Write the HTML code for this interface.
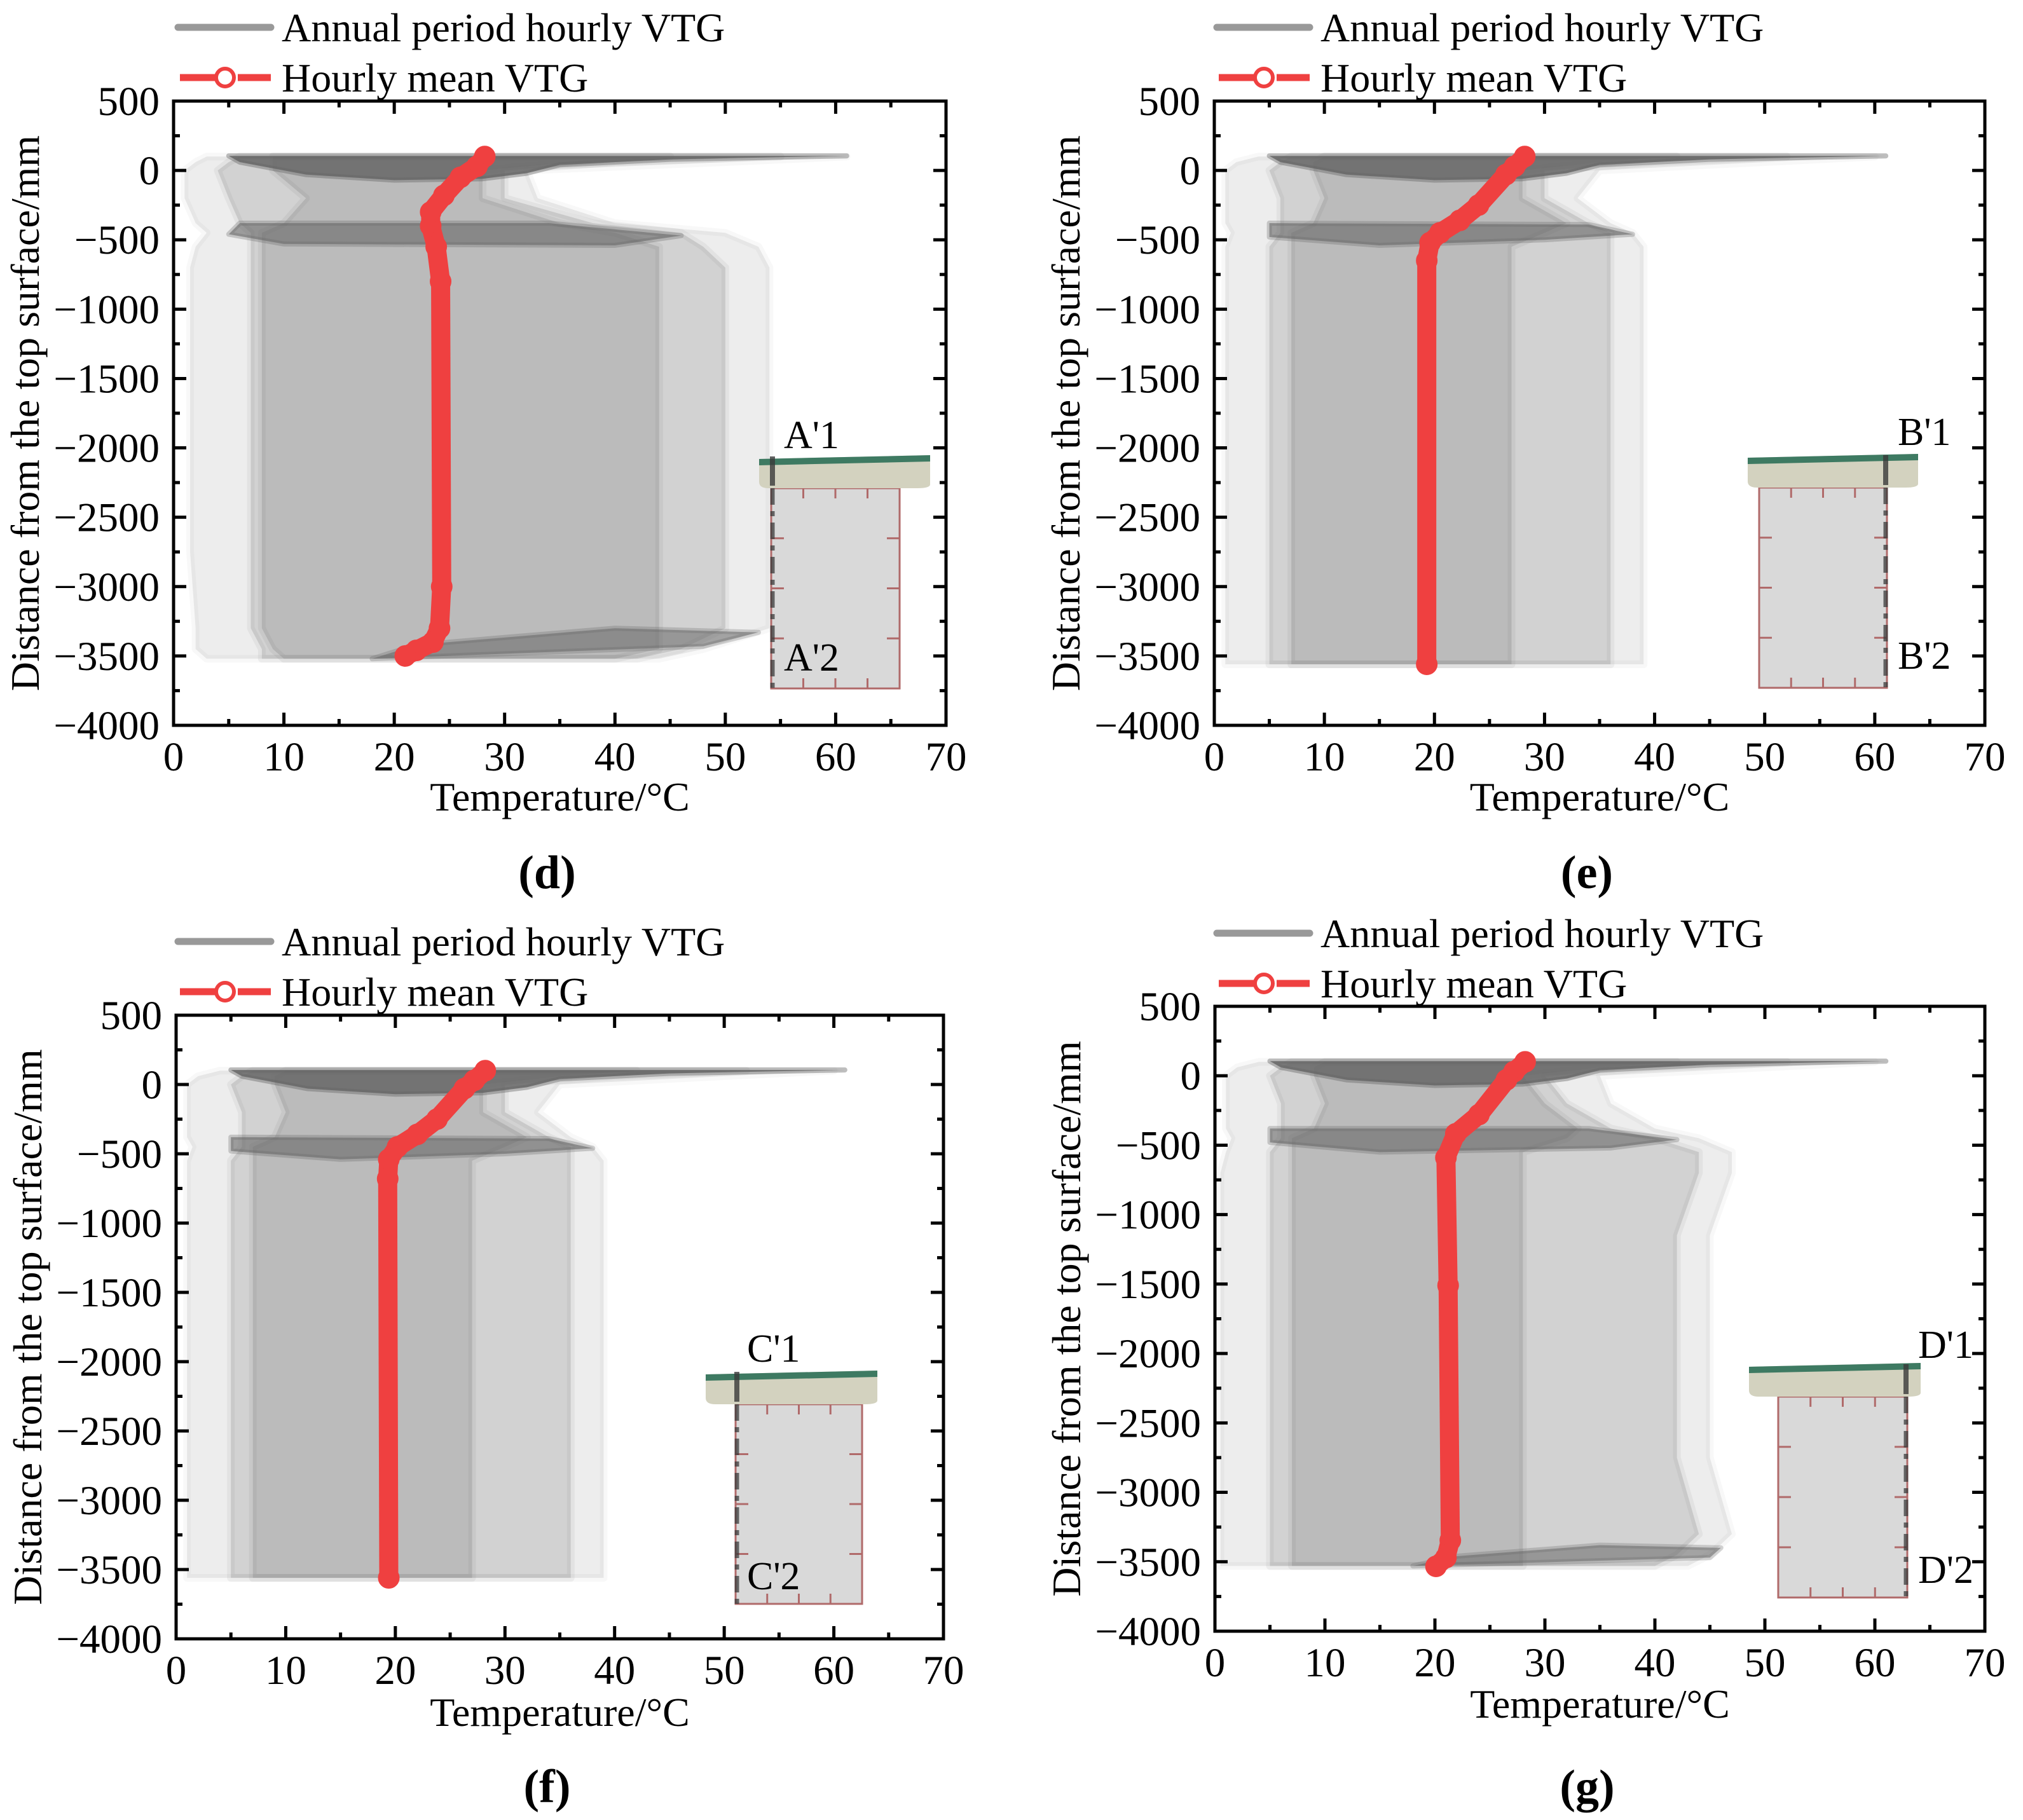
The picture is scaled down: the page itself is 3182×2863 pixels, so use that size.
<!DOCTYPE html>
<html><head><meta charset="utf-8"><style>
html,body{margin:0;padding:0;background:#fff}
svg{display:block}
text{font-family:"Liberation Serif",serif;fill:#000}
</style></head><body>
<svg id="fig" width="3182" height="2863" viewBox="0 0 3182 2863" xmlns="http://www.w3.org/2000/svg"></svg>
<script>
// ---------- data ----------
const xTicks = [0,10,20,30,40,50,60,70];
const yTicks = [500,0,-500,-1000,-1500,-2000,-2500,-3000,-3500,-4000];
const tickLabelsY = ["500","0","\u2212500","\u22121000","\u22121500","\u22122000","\u22122500","\u22123000","\u22123500","\u22124000"];

const depthD = [100,60,0,-200,-380,-450,-550,-700,-1150,-1950,-2750,-3300,-3450,-3520];
const outerMinD = [3,2,1,1,2,3,2,1.5,1.5,1.5,1.5,2,2,3];
const outerMaxD = [61,50,32,33,40,50,53,54,54,54,54,54,48,44];
const midMinD = [6,5,4,5,6,7,7,7,7,7,7,7,8,8];
const midMaxD = [55,40,30,30,38,46,48,50,50,50,50,50,46,42];
const innerMinD = [9,9,9,12,10,8,8,8,8,8,8,8,9,10];
const innerMaxD = [45,36,28,28,35,40,44,44,44,44,44,44,44,40];

const depthE = [100,60,0,-200,-380,-450,-550,-700,-1150,-1950,-2750,-3300,-3450,-3560];
const outerMinE = [4,2,1,1,1,1.5,1,1,1,1,1,1,1,1];
const outerMaxE = [60,50,35,33,36,38,39,39,39,39,39,39,39,39];
const midMinE = [7,6,5,6,6,6,5,5,5,5,5,5,5,5];
const midMaxE = [52,40,30,30,34,36,36,36,36,36,36,36,36,36];
const innerMinE = [10,9,9,10,9,7,7,7,7,7,7,7,7,7];
const innerMaxE = [42,35,28,28,32,30,27,27,27,27,27,27,27,27];

const depthF = [100,60,0,-200,-380,-450,-550,-700,-1150,-1950,-2750,-3300,-3450,-3560];
const outerMinF = [4,2,1,1,1,1.5,1,1,1,1,1,1,1,1];
const outerMaxF = [60,50,35,33,36,38,39,39,39,39,39,39,39,39];
const midMinF = [7,6,5,6,6,6,5,5,5,5,5,5,5,5];
const midMaxF = [52,40,30,30,34,36,36,36,36,36,36,36,36,36];
const innerMinF = [10,9,9,10,9,7,7,7,7,7,7,7,7,7];
const innerMaxF = [42,35,28,28,32,30,27,27,27,27,27,27,27,27];

const depthG = [100,60,0,-200,-380,-450,-550,-700,-1150,-1950,-2750,-3300,-3450,-3530];
const outerMinG = [4,2,1,1,1,1.5,1,0.5,0.5,0.5,0.5,0.5,0.5,0.5];
const outerMaxG = [60,50,35,36,40,44,47,47,45,45,45,47,45,43];
const midMinG = [7,6,5,6,6,6,5,5,5,5,5,5,5,5];
const midMaxG = [52,40,30,32,36,40,44,44,42,42,42,44,42,40];
const innerMinG = [10,9,9,10,9,7,7,7,7,7,7,7,7,7];
const innerMaxG = [42,35,28,30,33,32,28,28,28,28,28,28,28,28];

const topBand = [[5,105],[61,105],[45,80],[35,40],[32,-20],[28,-60],[20,-70],[12,-30],[6,60]];
const midBandD = [[6,-380],[34,-380],[46,-470],[40,-540],[10,-530],[5,-460]];
const midBandE = [[5,-380],[34,-390],[38,-460],[30,-500],[15,-540],[5,-480]];
const midBandF = [[5,-380],[34,-390],[38,-460],[30,-500],[15,-540],[5,-480]];
const midBandG = [[5,-380],[34,-380],[42,-460],[36,-520],[15,-550],[5,-480]];
const botBandD = [[18,-3520],[48,-3430],[53,-3330],[40,-3300],[22,-3420]];
const botBandG = [[18,-3530],[45,-3470],[46,-3400],[35,-3380],[22,-3460]];

const meanDepthD = [100,30,-50,-180,-300,-400,-550,-800,-3000,-3300,-3400,-3460,-3500];
const meanTempD  = [28.2,27.5,26,24.5,23.3,23.3,23.8,24.2,24.3,24.1,23.5,22,21];
const meanDepthE = [100,30,-30,-250,-360,-450,-520,-650,-3560];
const meanTempE  = [28.2,27.3,26.5,24,22.3,20.5,19.6,19.3,19.3];
const meanDepthF = [100,30,-30,-250,-360,-450,-540,-680,-3560];
const meanTempF  = [28.2,27.2,26.3,23.8,22,20.2,19.4,19.3,19.4];
const meanDepthG = [100,30,-30,-280,-418,-590,-1510,-3346,-3470,-3533];
const meanTempG  = [28.2,27.2,26.5,24,21.9,21,21.2,21.4,21,20.1];

const NS="http://www.w3.org/2000/svg";
const svg=document.getElementById('fig');
function mk(tag,attrs,parent){const e=document.createElementNS(NS,tag);for(const k in attrs)e.setAttribute(k,attrs[k]);(parent||svg).appendChild(e);return e;}

const panels=[
 {id:'d',L:273,R:1488,T:159,B:1141,legY:43,legX:280,label:'(d)',labY:1397,xtY:1275,
  dep:depthD,o0:outerMinD,o1:outerMaxD,m0:midMinD,m1:midMaxD,i0:innerMinD,i1:innerMaxD,mid:midBandD,bot:botBandD,
  md:meanDepthD,mt:meanTempD,
  inset:{sx0:1194,sx1:1463,sy0:718,sy1:768,wx0:1213,wx1:1415,wy1:1083,dx:1215,l1:"A'1",l1x:1233,l1y:705,l2:"A'2",l2x:1233,l2y:1055}},
 {id:'e',L:1910,R:3122,T:159,B:1141,legY:43,legX:1914,label:'(e)',labY:1397,xtY:1275,
  dep:depthE,o0:outerMinE,o1:outerMaxE,m0:midMinE,m1:midMaxE,i0:innerMinE,i1:innerMaxE,mid:midBandE,bot:null,
  md:meanDepthE,mt:meanTempE,
  inset:{sx0:2749,sx1:3017,sy0:716,sy1:767,wx0:2767,wx1:2968,wy1:1082,dx:2966,l1:"B'1",l1x:2985,l1y:700,l2:"B'2",l2x:2985,l2y:1052}},
 {id:'f',L:277,R:1484,T:1597,B:2578,legY:1481,legX:280,label:'(f)',labY:2835,xtY:2715,
  dep:depthF,o0:outerMinF,o1:outerMaxF,m0:midMinF,m1:midMaxF,i0:innerMinF,i1:innerMaxF,mid:midBandF,bot:null,
  md:meanDepthF,mt:meanTempF,
  inset:{sx0:1110,sx1:1380,sy0:2158,sy1:2209,wx0:1157,wx1:1356,wy1:2523,dx:1159,l1:"C'1",l1x:1175,l1y:2142,l2:"C'2",l2x:1175,l2y:2500}},
 {id:'g',L:1911,R:3122,T:1583,B:2566,legY:1468,legX:1914,label:'(g)',labY:2835,xtY:2702,
  dep:depthG,o0:outerMinG,o1:outerMaxG,m0:midMinG,m1:midMaxG,i0:innerMinG,i1:innerMaxG,mid:midBandG,bot:botBandG,
  md:meanDepthG,mt:meanTempG,
  inset:{sx0:2751,sx1:3021,sy0:2146,sy1:2197,wx0:2797,wx1:3000,wy1:2513,dx:2998,l1:"D'1",l1x:3017,l1y:2136,l2:"D'2",l2x:3017,l2y:2490}}
];

panels.forEach(p=>{
 const g=mk('g',{});
 
 
 const xs=v=>p.L+(v-0)/70*(p.R-p.L);
 const ys=v=>p.T+(500-v)/4500*(p.B-p.T);

 function band(lo,hi,op,name){
   let pts=[];
   for(let i=0;i<p.dep.length;i++)pts.push(xs(lo[i])+','+ys(p.dep[i]));
   for(let i=p.dep.length-1;i>=0;i--)pts.push(xs(hi[i])+','+ys(p.dep[i]));
   const e=mk('polygon',{points:pts.join(' '),fill:'#6a6a6a','fill-opacity':op,'stroke':'#6a6a6a','stroke-opacity':op*0.4,'stroke-width':12,'stroke-linejoin':'round'},g);
   
   
 }
 band(p.o0,p.o1,0.12,'annual-vtg-outer-envelope');
 band(p.m0,p.m1,0.2,'annual-vtg-mid-envelope');
 band(p.i0,p.i1,0.22,'annual-vtg-dense-envelope');
 function poly(arr,op,name){
   const e=mk('polygon',{points:arr.map(a=>xs(a[0])+','+ys(a[1])).join(' '),fill:'#666','fill-opacity':op,stroke:'#666','stroke-opacity':op*0.5,'stroke-width':8,'stroke-linejoin':'round'},g);
   
   
 }
 poly(topBand,0.85,'annual-vtg-surface-band');
 poly(p.mid,0.6,'annual-vtg-interface-band');
 if(p.bot)poly(p.bot,0.55,'annual-vtg-bottom-band');

 const s=p.inset;
 const ig=mk('g',{},g);
 
 
 mk('rect',{x:s.wx0,y:s.sy1,width:s.wx1-s.wx0,height:s.wy1-s.sy1,fill:'#d9d9d9',stroke:'#b06a6a','stroke-width':3},ig);
 for(let k=1;k<4;k++){const tx=s.wx0+k*(s.wx1-s.wx0)/4;mk('line',{x1:tx,y1:s.sy1,x2:tx,y2:s.sy1+16,stroke:'#b06a6a','stroke-width':3},ig);mk('line',{x1:tx,y1:s.wy1,x2:tx,y2:s.wy1-16,stroke:'#b06a6a','stroke-width':3},ig);}
 for(let k=1;k<4;k++){const ty=s.sy1+k*(s.wy1-s.sy1)/4;mk('line',{x1:s.wx0,y1:ty,x2:s.wx0+20,y2:ty,stroke:'#b06a6a','stroke-width':3},ig);mk('line',{x1:s.wx1,y1:ty,x2:s.wx1-20,y2:ty,stroke:'#b06a6a','stroke-width':3},ig);}
 mk('path',{d:`M${s.sx0} ${s.sy0+4} L${s.sx1} ${s.sy0-2} L${s.sx1} ${s.sy1-6} Q${s.sx1} ${s.sy1} ${s.sx1-20} ${s.sy1} L${s.sx0+15} ${s.sy1} Q${s.sx0} ${s.sy1} ${s.sx0} ${s.sy1-10} Z`,fill:'#d3d2bf'},ig);
 mk('path',{d:`M${s.sx0} ${s.sy0+4} L${s.sx1} ${s.sy0-2} L${s.sx1} ${s.sy0+8} L${s.sx0} ${s.sy0+14} Z`,fill:'#3e7a62'},ig);
 mk('line',{x1:s.dx,y1:s.sy0,x2:s.dx,y2:s.sy1-4,stroke:'#3a3a3a','stroke-width':8,'stroke-opacity':0.8},ig);
 mk('line',{x1:s.dx,y1:s.sy1,x2:s.dx,y2:s.wy1,stroke:'#3a3a3a','stroke-width':7,'stroke-opacity':0.75,'stroke-dasharray':'26 10 8 10'},ig);
 const t1=mk('text',{x:s.l1x,y:s.l1y,'font-size':62},ig);t1.textContent=s.l1;
 
 
 const t2=mk('text',{x:s.l2x,y:s.l2y,'font-size':62},ig);t2.textContent=s.l2;
 
 

 const pts=p.md.map((d,i)=>xs(p.mt[i])+','+ys(d)).join(' ');
 const ml=mk('polyline',{points:pts,fill:'none',stroke:'#ef4040','stroke-width':30,'stroke-linejoin':'round','stroke-linecap':'round'},g);
 
 
 p.md.forEach((d,i)=>{
   const c=mk('circle',{cx:xs(p.mt[i]),cy:ys(d),r:14,fill:'none',stroke:'#ef4040','stroke-width':6},g);
   
   
 });

 const fr=mk('rect',{x:p.L,y:p.T,width:p.R-p.L,height:p.B-p.T,fill:'none',stroke:'#000','stroke-width':5},g);
 
 
 for(let v=0;v<=70;v+=5){
   const len=v%10===0?20:10,x=xs(v);
   mk('line',{x1:x,y1:p.B,x2:x,y2:p.B-len,stroke:'#000','stroke-width':5},g);
   mk('line',{x1:x,y1:p.T,x2:x,y2:p.T+len,stroke:'#000','stroke-width':5},g);
 }
 xTicks.forEach(v=>{
   const t=mk('text',{x:xs(v),y:p.B+71,'font-size':65,'text-anchor':'middle'},g);t.textContent=String(v);
   
   
 });
 for(let v=500;v>=-4000;v-=250){
   const len=v%500===0?20:10,y=ys(v);
   mk('line',{x1:p.L,y1:y,x2:p.L+len,y2:y,stroke:'#000','stroke-width':5},g);
   mk('line',{x1:p.R,y1:y,x2:p.R-len,y2:y,stroke:'#000','stroke-width':5},g);
 }
 yTicks.forEach((v,i)=>{
   const t=mk('text',{x:p.L-22,y:ys(v)+22,'font-size':65,'text-anchor':'end'},g);t.textContent=tickLabelsY[i];
   
   
 });
 const xt=mk('text',{x:(p.L+p.R)/2,y:p.xtY,'font-size':64,'text-anchor':'middle'},g);xt.textContent='Temperature/\u00B0C';
 
 
 const cy=(p.T+p.B)/2, cx=p.L-212;
 const yt=mk('text',{x:cx,y:cy,'font-size':64,'text-anchor':'middle',transform:`rotate(-90 ${cx} ${cy})`},g);yt.textContent='Distance from the top surface/mm';
 
 
 const pl=mk('text',{x:(p.L+p.R)/2-20,y:p.labY,'font-size':74,'font-weight':'bold','text-anchor':'middle'},g);pl.textContent=p.label;
 
 

 const lg=mk('g',{},g);
 
 
 mk('line',{x1:p.legX,y1:p.legY,x2:p.legX+146,y2:p.legY,stroke:'#999','stroke-width':11,'stroke-linecap':'round'},lg);
 const a=mk('text',{x:p.legX+163,y:p.legY+22,'font-size':64},lg);a.textContent='Annual period hourly VTG';
 
 
 const ry=p.legY+79;
 mk('line',{x1:p.legX+3,y1:ry,x2:p.legX+58,y2:ry,stroke:'#ef4040','stroke-width':11},lg);
 mk('line',{x1:p.legX+94,y1:ry,x2:p.legX+146,y2:ry,stroke:'#ef4040','stroke-width':11},lg);
 mk('circle',{cx:p.legX+74,cy:ry,r:14,fill:'none',stroke:'#ef4040','stroke-width':6},lg);
 const b=mk('text',{x:p.legX+163,y:ry+22,'font-size':64},lg);b.textContent='Hourly mean VTG';
 
 
});
</script>
</body></html>
